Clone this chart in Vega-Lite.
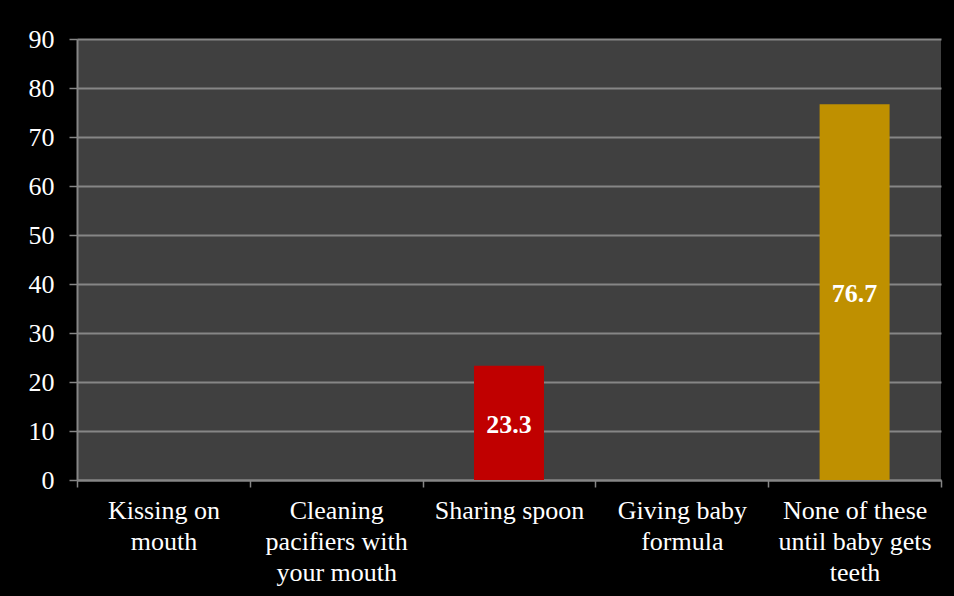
{
  "$schema": "https://vega.github.io/schema/vega-lite/v6.json",
  "autosize": {"type": "none"},
  "width": 864,
  "height": 441,
  "padding": {"left": 77, "top": 39, "right": 13, "bottom": 116},
  "background": "#000000",
  "config": {
    "font": "Liberation Serif",
    "view": {"fill": "#404040", "stroke": null}
  },
  "data": {
    "values": [
      {"practice": "Kissing on mouth", "percent": 0},
      {"practice": "Cleaning pacifiers with your mouth", "percent": 0},
      {"practice": "Sharing spoon", "percent": 23.3},
      {"practice": "Giving baby formula", "percent": 0},
      {"practice": "None of these until baby gets teeth", "percent": 76.7}
    ]
  },
  "encoding": {
    "x": {
      "field": "practice",
      "type": "nominal",
      "sort": null,
      "scale": {"paddingInner": 0, "paddingOuter": 0},
      "axis": {
        "title": null,
        "labelAngle": 0,
        "labelFont": "Liberation Serif",
        "labelFontSize": 26,
        "labelColor": "#ffffff",
        "labelLineHeight": 31,
        "labelBaseline": "top",
        "labelPadding": 10,
        "labelLimit": 300,
        "tickBand": "extent",
        "tickSize": 7,
        "tickColor": "#868686",
        "tickWidth": 1.5,
        "domainColor": "#868686",
        "domainWidth": 2,
        "labelExpr": "datum.value == 'Kissing on mouth' ? ['Kissing on', 'mouth'] : datum.value == 'Cleaning pacifiers with your mouth' ? ['Cleaning', 'pacifiers with', 'your mouth'] : datum.value == 'Giving baby formula' ? ['Giving baby', 'formula'] : datum.value == 'None of these until baby gets teeth' ? ['None of these', 'until baby gets', 'teeth'] : datum.value"
      }
    }
  },
  "layer": [
    {
      "mark": {"type": "bar", "width": {"band": 0.405}},
      "encoding": {
        "y": {
          "field": "percent",
          "type": "quantitative",
          "scale": {"domain": [0, 90], "nice": false},
          "axis": {
            "title": null,
            "values": [0, 10, 20, 30, 40, 50, 60, 70, 80, 90],
            "labelFont": "Liberation Serif",
            "labelFontSize": 26,
            "labelColor": "#ffffff",
            "labelPadding": 15,
            "tickSize": 8,
            "tickColor": "#868686",
            "tickWidth": 1.5,
            "domainColor": "#868686",
            "domainWidth": 2,
            "grid": true,
            "gridColor": "#868686",
            "gridWidth": 2
          }
        },
        "color": {
          "field": "practice",
          "type": "nominal",
          "legend": null,
          "scale": {
            "domain": ["Kissing on mouth", "Cleaning pacifiers with your mouth", "Sharing spoon", "Giving baby formula", "None of these until baby gets teeth"],
            "range": ["#C00000", "#C00000", "#C00000", "#BF9000", "#BF9000"]
          }
        }
      }
    },
    {
      "transform": [
        {"filter": "datum.percent > 0"},
        {"calculate": "datum.percent / 2", "as": "mid"}
      ],
      "mark": {"type": "text", "font": "Liberation Serif", "fontSize": 26, "fontWeight": "bold", "color": "#ffffff", "baseline": "middle", "dy": 2},
      "encoding": {
        "y": {"field": "mid", "type": "quantitative"},
        "text": {"field": "percent", "type": "quantitative", "format": ".1f"}
      }
    }
  ]
}
